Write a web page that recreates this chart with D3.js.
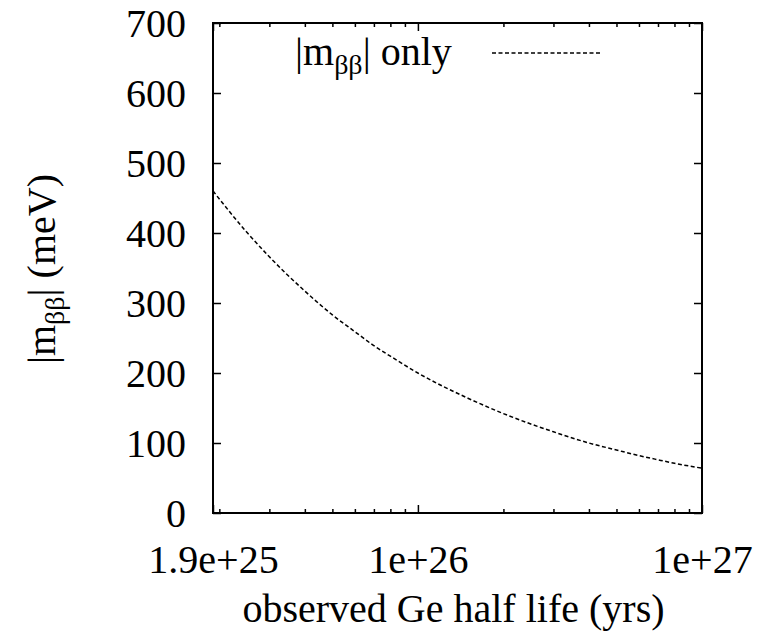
<!DOCTYPE html>
<html>
<head>
<meta charset="utf-8">
<script src="https://cdn.jsdelivr.net/npm/d3@7"></script>
</head>
<body style="margin:0; background:#fff">
<div id="chart"></div>
<script>
// Half life (yrs) and effective mass |m_bb| (meV)
const halfLife = [1.9e25, 2.5e25, 3e25, 4e25, 5e25, 6e25, 7e25, 8e25, 1e26,
                  1.5e26, 2e26, 3e26, 4e26, 5e26, 6e26, 7e26, 8e26, 1e27];
const mbb = [460, 401, 366, 317, 283, 259, 239, 224, 200,
             164, 142, 116, 100, 90, 82, 76, 71, 64];

const xTicks = [1.9e25, 1e26, 1e27];
const xTickLabels = ["1.9e+25", "1e+26", "1e+27"];
const xMinor = [2e25, 3e25, 4e25, 5e25, 6e25, 7e25, 8e25, 9e25,
                2e26, 3e26, 4e26, 5e26, 6e26, 7e26, 8e26, 9e26];
const yTicks = [0, 100, 200, 300, 400, 500, 600, 700];

const width = 769, height = 642;
const margin = { top: 23, right: 67, bottom: 129, left: 213 };
const iw = width - margin.left - margin.right;
const ih = height - margin.top - margin.bottom;
const serif = "Times New Roman";

const svg = d3.select("#chart").append("svg")
    .attr("width", width)
    .attr("height", height)
    .attr("font-family", serif);

const g = svg.append("g").attr("transform", `translate(${margin.left},${margin.top})`);

const x = d3.scaleLog().domain([1.9e25, 1e27]).range([0, iw]);
const y = d3.scaleLinear().domain([0, 700]).range([ih, 0]);

// tick marks drawn inward on all four sides (gnuplot style)
function ticks(axis, scale, vals, size, label) {
    const a = axis(scale).tickValues(vals).tickSizeInner(-size).tickSizeOuter(0);
    a.tickFormat(label ? ((d, i) => label[i]) : () => "");
    return a;
}

const xb = g.append("g").attr("transform", `translate(0,${ih})`)
    .call(ticks(d3.axisBottom, x, xTicks, 8, xTickLabels));
g.append("g").attr("transform", `translate(0,${ih})`).call(ticks(d3.axisBottom, x, xMinor, 4));
g.append("g").call(ticks(d3.axisTop, x, xTicks, 8));
g.append("g").call(ticks(d3.axisTop, x, xMinor, 4));
const yl = g.append("g").call(ticks(d3.axisLeft, y, yTicks, 8, yTicks.map(String)));
g.append("g").attr("transform", `translate(${iw},0)`).call(ticks(d3.axisRight, y, yTicks, 8));

g.selectAll(".domain").remove();
g.selectAll("g").attr("font-family", serif).attr("font-size", 40);
g.selectAll(".tick line").attr("stroke", "#000").attr("stroke-width", 1.5);
// empty labels of the minor / mirrored axes are dropped
g.selectAll(".tick text").filter(function () { return this.textContent === ""; }).remove();

xb.selectAll(".tick text")
    .attr("y", 32)
    .attr("dy", "0.71em");
yl.selectAll(".tick text")
    .attr("x", -27)
    .attr("dy", "0.34em");

// plot border
g.append("rect")
    .attr("width", iw)
    .attr("height", ih)
    .attr("fill", "none")
    .attr("stroke", "#000")
    .attr("stroke-width", 2);

// curve
const line = d3.line()
    .x((d, i) => x(halfLife[i]))
    .y(d => y(d))
    .curve(d3.curveMonotoneX);

g.append("path")
    .datum(mbb)
    .attr("d", line)
    .attr("fill", "none")
    .attr("stroke", "#000")
    .attr("stroke-width", 1.5)
    .attr("stroke-dasharray", "4,2.5");

// legend
const leg = svg.append("text")
    .attr("x", 295)
    .attr("y", 65)
    .attr("font-size", 40);
leg.append("tspan").text("|m");
leg.append("tspan").attr("dy", 9).attr("font-size", 28).text("ββ");
leg.append("tspan").attr("dy", -9).text("| only");

svg.append("line")
    .attr("x1", 492).attr("x2", 600)
    .attr("y1", 53).attr("y2", 53)
    .attr("stroke", "#000")
    .attr("stroke-width", 1.5)
    .attr("stroke-dasharray", "4,2.5");

// axis titles
svg.append("text")
    .attr("x", margin.left + iw / 2 - 4)
    .attr("y", 622)
    .attr("text-anchor", "middle")
    .attr("font-size", 40)
    .text("observed Ge half life (yrs)");

const yt = svg.append("text")
    .attr("transform", "translate(55,269) rotate(-90)")
    .attr("text-anchor", "middle")
    .attr("font-size", 40);
yt.append("tspan").text("|m");
yt.append("tspan").attr("dy", 9).attr("font-size", 28).text("ββ");
yt.append("tspan").attr("dy", -9).text("| (meV)");

// every label carries the serif face itself
svg.selectAll("text, tspan")
    .attr("font-family", serif)
    .attr("fill", "#000");
</script>
</body>
</html>
